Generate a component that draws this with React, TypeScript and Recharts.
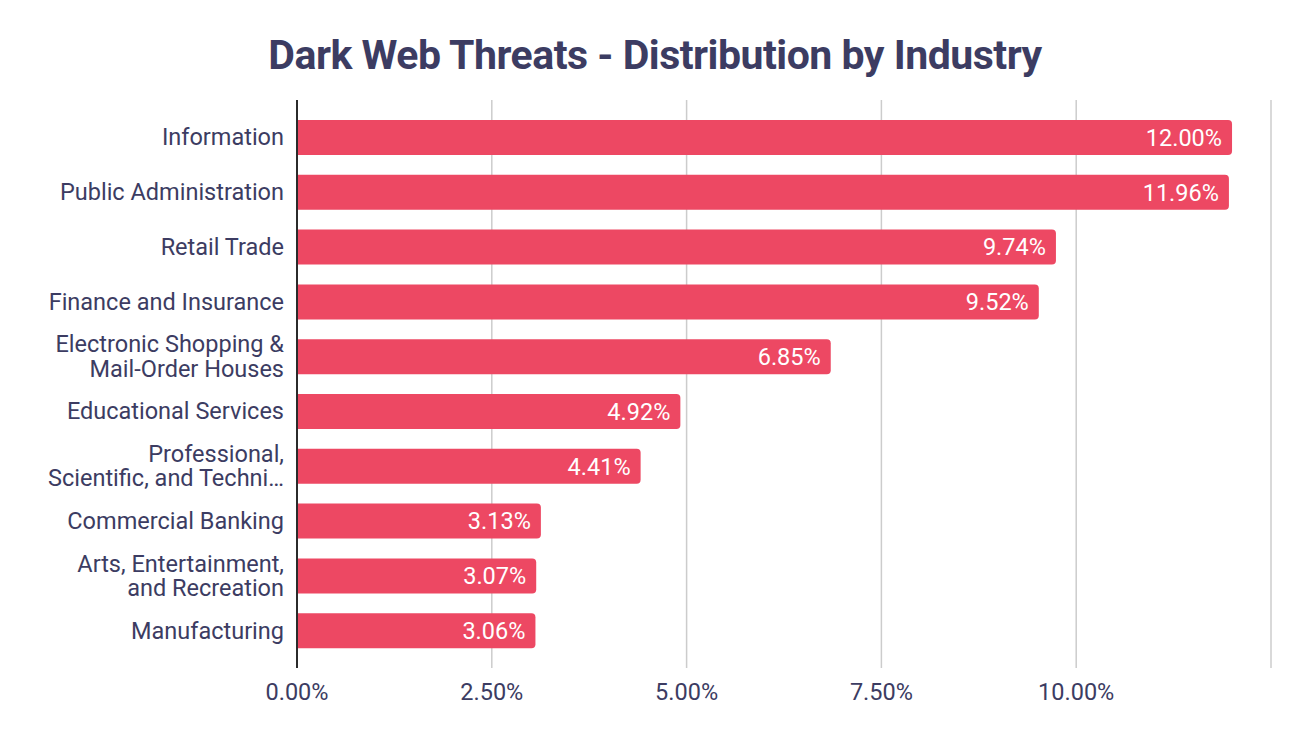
import React from 'react';
import { BarChart, Bar, XAxis, YAxis, CartesianGrid, LabelList } from 'recharts';

const categories = [
  'Information',
  'Public Administration',
  'Retail Trade',
  'Finance and Insurance',
  'Electronic Shopping &\nMail-Order Houses',
  'Educational Services',
  'Professional,\nScientific, and Techni…',
  'Commercial Banking',
  'Arts, Entertainment,\nand Recreation',
  'Manufacturing',
];
const shares = [12.0, 11.96, 9.74, 9.52, 6.85, 4.92, 4.41, 3.13, 3.07, 3.06];
const xTicks = [0, 2.5, 5, 7.5, 10, 12.5];
const xTickLabels = ['0.00%', '2.50%', '5.00%', '7.50%', '10.00%', ''];

const data = categories.map((name, i) => ({ name, value: shares[i] }));

const TEXT = '#3c3c62';
const BAR = '#ED4863';
const FONT = 'Roboto, sans-serif';
const FS = 23.5;

const YTick = (props: any) => {
  const { x, y, payload } = props;
  const lines = String(payload.value).split('\n');
  const lh = 24.5;
  const start = -((lines.length - 1) * lh) / 2;
  return (
    <g>
      {lines.map((l: string, i: number) => (
        <text
          key={i}
          x={x - 5}
          y={y + start + i * lh}
          textAnchor="end"
          dominantBaseline="central"
          fill={TEXT}
          fontSize={FS}
          fontFamily={FONT}
        >
          {l}
        </text>
      ))}
    </g>
  );
};

export default function App() {
  return (
    <div style={{ position: 'absolute', left: 0, top: 0, width: 1310, height: 742, background: '#fff', fontFamily: FONT }}>
      <div
        style={{
          position: 'absolute',
          top: 30,
          left: 0,
          width: 1310,
          textAlign: 'center',
          fontSize: 41,
          fontWeight: 700,
          color: TEXT,
          lineHeight: '50px',
          letterSpacing: -0.5,
        }}
      >
        Dark Web Threats - Distribution by Industry
      </div>
      <div style={{ position: 'absolute', left: 0, top: 0 }}>
        <BarChart
          width={1310}
          height={742}
          data={data}
          layout="vertical"
          margin={{ top: 100, right: 39, left: 0, bottom: 44 }}
          barSize={35}
        >
          <CartesianGrid horizontal={false} vertical={true} stroke="#cccccc" strokeWidth={1.5} />
          <XAxis
            type="number"
            domain={[0, 12.5]}
            ticks={xTicks}
            tickFormatter={(v: number) => xTickLabels[xTicks.indexOf(v)] ?? ''}
            axisLine={false}
            tickLine={false}
            tickMargin={9}
            height={30}
            tick={{ fill: TEXT, fontSize: FS, fontFamily: FONT }}
            interval={0}
          />
          <YAxis
            type="category"
            dataKey="name"
            width={297}
            tick={<YTick />}
            tickLine={false}
            axisLine={{ stroke: '#2b2b2b', strokeWidth: 2 }}
            padding={{ top: 10, bottom: 10 }}
            interval={0}
          />
          <Bar dataKey="value" fill={BAR} radius={[0, 4, 4, 0]} isAnimationActive={false}>
            <LabelList
              dataKey="value"
              position="insideRight"
              offset={10}
              formatter={(v: any) => `${Number(v).toFixed(2)}%`}
              fill="#ffffff"
              fontSize={FS}
              fontFamily={FONT}
            />
          </Bar>
        </BarChart>
      </div>
    </div>
  );
}
